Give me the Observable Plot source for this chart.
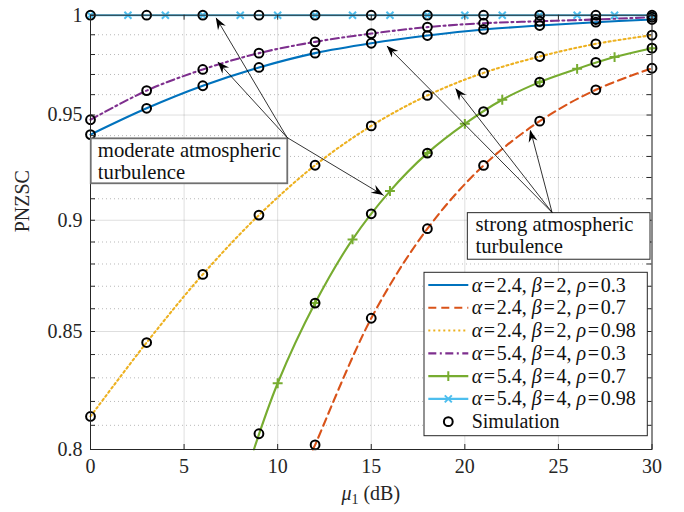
<!DOCTYPE html>
<html><head><meta charset="utf-8">
<script src="https://cdn.jsdelivr.net/npm/d3@7"></script>
<script src="https://cdn.jsdelivr.net/npm/@observablehq/plot@0.6"></script>
<style>body{margin:0;background:#fff}</style>
</head><body><div id="chart"></div>
<script>
// ---- data ----
const xSim = [0, 3, 6, 9, 12, 15, 18, 21, 24, 27, 30];
const xMark = [0, 2, 4, 6, 8, 10, 12, 14, 16, 18, 20, 22, 24, 26, 28, 30];
const alphas = ["2.4", "2.4", "2.4", "5.4", "5.4", "5.4"];
const betas = ["2", "2", "2", "4", "4", "4"];
const rhos = ["0.3", "0.7", "0.98", "0.3", "0.7", "0.98"];
const colors = ["#0072BD", "#D95319", "#EDB120", "#7E2F8E", "#77AC30", "#4DBEEE"];
const dashes = [null, "8,5", "2,3", "8,3.5,2,3.5", null, null];
const markerSym = [null, null, null, null, "plus", "times"];

const sim0 = [0.9405, 0.9533, 0.9644, 0.9735, 0.9807, 0.9857, 0.9896, 0.9927, 0.9947, 0.9964, 0.9978];
const sim1 = [null, null, null, null, 0.8019, 0.8558, 0.8961, 0.9257, 0.9470, 0.9624, 0.9731];
const sim2 = [0.8137, 0.8452, 0.8753, 0.9024, 0.9258, 0.9447, 0.9596, 0.9708, 0.9790, 0.9854, 0.9898];
const sim3 = [0.9477, 0.9620, 0.9725, 0.9807, 0.9864, 0.9906, 0.9939, 0.9959, 0.9969, 0.9978, 0.9990];
const sim4 = [null, null, null, 0.8065, 0.8625, 0.9030, 0.9316, 0.9517, 0.9662, 0.9761, 0.9832];
const sim5 = [1, 1, 1, 1, 1, 1, 1, 1, 1, 1, 1];
const mark4 = [null, null, null, null, null, 0.8277, 0.8625, 0.8912, 0.9136, 0.9316, 0.9457, 0.9575, 0.9662, 0.9728, 0.9787, 0.9832];
const mark5 = [1, 1, 1, 1, 1, 1, 1, 1, 1, 1, 1, 1, 1, 1, 1, 1];
const edgeX = [null, 11.88, null, null, 8.73, null]; // where a curve leaves the bottom edge (y = 0.8)

const xTicks = [0, 5, 10, 15, 20, 25, 30];
const yTicks = [0.8, 0.85, 0.9, 0.95, 1];
const yMinor = [0.81, 0.82, 0.83, 0.84, 0.86, 0.87, 0.88, 0.89, 0.91, 0.92, 0.93, 0.94, 0.96, 0.97, 0.98, 0.99];

// annotation boxes and arrows (data coordinates)
const boxText = ["moderate atmospheric\nturbulence", "strong atmospheric\nturbulence"];
const boxX1 = [0.04, 20.16], boxX2 = [10.54, 29.92];
const boxY1 = [0.93845, 0.90329], boxY2 = [0.91703, 0.88193];
const boxTextX = [0.39, 20.57], boxTextY = [0.93727, 0.90217];
const boxStroke = ["#707070", "#262626"], boxStrokeW = [1.8, 1];
const arrFromX = [10.5, 10.5, 10.5, 24.66, 24.66, 24.66];
const arrFromY = [0.9391, 0.9391, 0.9391, 0.90362, 0.90362, 0.90362];
const arrToX = [6.72, 6.82, 15.67, 15.85, 19.52, 23.51];
const arrToY = [0.9985, 0.9761, 0.9115, 0.9842, 0.9629, 0.9425];

// ---- tables ----
const sims = [sim0, sim1, sim2, sim3, sim4, sim5];
const marks = [null, null, null, null, mark4, mark5];
const simRows = [];
sims.forEach((arr, s) => arr.forEach((v, j) => { if (v != null) simRows.push({s, x: xSim[j], y: v}); }));
const lineSets = sims.map((arr, s) => {
  const pts = [];
  if (edgeX[s] != null) pts.push({x: edgeX[s], y: 0.8});
  const src = marks[s] || arr, xs = marks[s] ? xMark : xSim;
  src.forEach((v, j) => { if (v != null) pts.push({x: xs[j], y: v}); });
  return pts.sort((a, b) => a.x - b.x);
});
const markRows = [];
marks.forEach((arr, s) => { if (arr) arr.forEach((v, j) => { if (v != null) markRows.push({s, x: xMark[j], y: v}); }); });
const boxes = boxText.map((t, i) => ({t, x1: boxX1[i], x2: boxX2[i], y1: boxY1[i], y2: boxY2[i], tx: boxTextX[i], ty: boxTextY[i], i}));
const arrows = arrToX.map((_, i) => ({x1: arrFromX[i], y1: arrFromY[i], x2: arrToX[i], y2: arrToY[i]}));

const mL = 90, mR = 32.5, mT = 14.7, mB = 63, W = 684, H = 512;
const pw = W - mL - mR, ph = H - mT - mB;
const ink = "#262626";
const serif = "'Liberation Serif', serif";

const lineMarks = lineSets.map((pts, s) => Plot.line(pts, {
  x: "x", y: "y", stroke: colors[s], strokeWidth: 2.1, strokeDasharray: dashes[s], curve: "catmull-rom"
}));
const markerMarks = [4, 5].map(s => Plot.dot(markRows.filter(d => d.s === s), {
  x: "x", y: "y", symbol: markerSym[s], r: 3.3, stroke: colors[s], strokeWidth: 2
}));

const plot = Plot.plot({
  width: W, height: H, marginLeft: mL, marginRight: mR, marginTop: mT, marginBottom: mB,
  style: {fontFamily: serif, fontSize: "20px", color: ink, background: "white"},
  x: {domain: [0, 30]},
  y: {type: "log", domain: [0.8, 1]},
  marks: [
    Plot.gridX(xTicks, {stroke: "#000", strokeOpacity: 0.13}),
    Plot.gridY(yMinor, {stroke: "#000", strokeOpacity: 0.28, strokeDasharray: "1,3"}),
    Plot.gridY(yTicks, {stroke: "#000", strokeOpacity: 0.13}),
    ...lineMarks,
    ...markerMarks,
    Plot.dot(simRows, {x: "x", y: "y", r: 4.4, stroke: "black", strokeWidth: 2, fill: "none"}),
    Plot.frame({stroke: ink, strokeWidth: 1}),
    Plot.tickY(yTicks.concat(yMinor), {y: d => d, stroke: ink, insetRight: pw - 5}),
    Plot.tickY(yTicks.concat(yMinor), {y: d => d, stroke: ink, insetLeft: pw - 5}),
    Plot.tickX(xTicks, {x: d => d, stroke: ink, insetTop: ph - 5}),
    Plot.tickX(xTicks, {x: d => d, stroke: ink, insetBottom: ph - 5}),
    Plot.axisX(xTicks, {tickSize: 0, tickPadding: 9, label: null, fill: ink, fontFamily: serif}),
    Plot.axisY(yTicks, {tickSize: 0, tickPadding: 8, label: null, tickFormat: d => String(d), fill: ink, fontFamily: serif}),
    Plot.text(["PNZSC"], {frameAnchor: "left", dx: -68, rotate: -90, fill: ink, fontFamily: serif}),
    Plot.rect(boxes, {x1: "x1", x2: "x2", y1: "y1", y2: "y2", fill: "white", stroke: d => boxStroke[d.i], strokeWidth: d => boxStrokeW[d.i]}),
    Plot.text(boxes, {x: "tx", y: "ty", text: "t", textAnchor: "start", lineAnchor: "top", lineHeight: 1.06, fill: "#111", fontFamily: serif, fontSize: 20.7}),
    Plot.link(arrows, {x1: "x1", y1: "y1", x2: "x2", y2: "y2", stroke: "black", strokeWidth: 0.8})
  ]
});

// post-render: arrowheads, x label, legend
const svg = d3.select(plot);
const sx = plot.scale("x"), sy = plot.scale("y");
const heads = svg.append("g");
arrows.forEach(a => {
  const x1 = sx.apply(a.x1), y1 = sy.apply(a.y1), x2 = sx.apply(a.x2), y2 = sy.apply(a.y2);
  const ang = Math.atan2(y2 - y1, x2 - x1) * 180 / Math.PI;
  heads.append("path").attr("d", "M0,0L-12,-4.5L-8,0L-12,4.5Z").attr("fill", "black")
    .attr("transform", `translate(${x2},${y2}) rotate(${ang})`);
});

const xl = svg.append("text").attr("x", mL + pw / 2).attr("y", 500).attr("text-anchor", "middle")
  .attr("fill", ink).style("font-size", "20px").style("font-family", serif);
xl.append("tspan").attr("font-style", "italic").text("μ");
xl.append("tspan").attr("font-size", "14px").attr("dy", 4).text("1");
xl.append("tspan").attr("dy", -4).text(" (dB)");

const hs = "\u200A";
const lg = svg.append("g").style("font-family", serif);
const lx = 424, ly = 272.3, lw = 223.3, lh = 163.4, rowH = 22.78, row0 = 285;
lg.append("rect").attr("x", lx).attr("y", ly).attr("width", lw).attr("height", lh)
  .attr("fill", "white").attr("stroke", ink).attr("stroke-width", 1);
alphas.forEach((a, s) => {
  const yy = row0 + s * rowH;
  lg.append("line").attr("x1", 428.3).attr("x2", 468.3).attr("y1", yy).attr("y2", yy)
    .attr("stroke", colors[s]).attr("stroke-width", 2.1).attr("stroke-dasharray", dashes[s]);
  if (markerSym[s]) {
    const sym = d3.symbol(markerSym[s] === "plus" ? d3.symbolPlus : d3.symbolTimes, 34);
    lg.append("path").attr("d", sym()).attr("transform", `translate(448.3,${yy})`)
      .attr("fill", "none").attr("stroke", colors[s]).attr("stroke-width", 2);
  }
  const t = lg.append("text").attr("x", 471.7).attr("y", yy + 6.5).attr("text-anchor", "start")
    .attr("fill", "#111").style("font-size", "20px");
  t.append("tspan").attr("font-style", "italic").text("α");
  t.append("tspan").text(hs + "=" + hs + a + ", ");
  t.append("tspan").attr("font-style", "italic").text("β");
  t.append("tspan").text(hs + "=" + hs + betas[s] + ", ");
  t.append("tspan").attr("font-style", "italic").text("ρ");
  t.append("tspan").text(hs + "=" + hs + rhos[s]);
});
{
  const yy = row0 + 6 * rowH;
  lg.append("circle").attr("cx", 448.3).attr("cy", yy).attr("r", 4.4).attr("fill", "none")
    .attr("stroke", "black").attr("stroke-width", 2);
  lg.append("text").attr("x", 471.7).attr("y", yy + 6.5).attr("text-anchor", "start")
    .attr("fill", "#111").style("font-size", "20px").text("Simulation");
}

document.getElementById("chart").appendChild(plot);
</script>
</body></html>
